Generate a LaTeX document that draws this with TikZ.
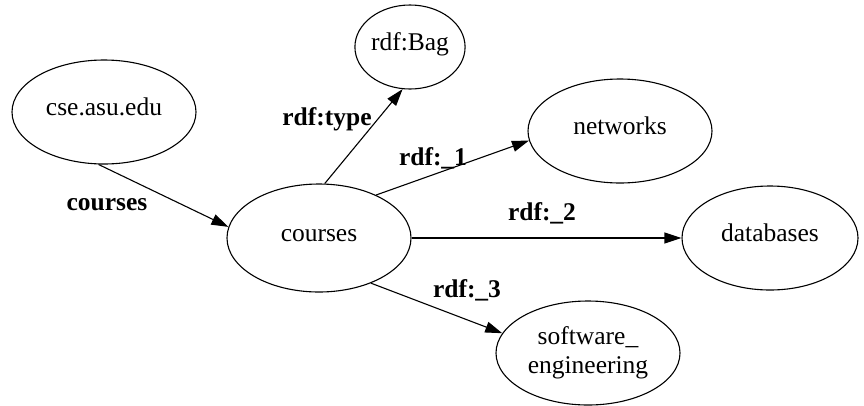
\documentclass[tikz,border=0pt]{standalone}
\usepackage{fontspec}
\setmainfont{Liberation Serif}
\usetikzlibrary{shapes.geometric,arrows.meta}
\begin{document}
\begin{tikzpicture}[x=1pt,y=-1pt,
  every node/.style={font=\fontsize{25.5pt}{29pt}\selectfont},
  nd/.style={ellipse,draw,line width=1.1pt,inner sep=0pt,minimum width=184pt,minimum height=104pt,text height=0.72em,text depth=0em},
  lbl/.style={font=\fontsize{25.5pt}{29pt}\selectfont\bfseries,inner sep=0pt,text height=0.68em,text depth=0.22em},
  edge/.style={line width=1.1pt,-{Triangle[length=17pt,width=11pt]}}]
\useasboundingbox (0,0) rectangle (864,405);
\node[nd] (cse) at (104,112) {cse.asu.edu};
\node[nd,minimum width=110pt,minimum height=84pt] (bag) at (410,47) {rdf:Bag};
\node[nd] (net) at (620,131) {networks};
\node[nd,minimum height=108pt] (crs) at (319,238) {courses};
\node[nd,minimum width=176pt] (db) at (770,238) {databases};
\node[nd,align=center,text height=,text depth=] (sw) at (588,353) {software\_\\engineering};
\draw[edge] (cse.264) -- (crs.173);
\draw[edge] (crs.84) -- (bag.260);
\draw[edge] (crs.37) -- (net.186);
\draw[edge] (crs.0) -- (db.180);
\draw[edge] (crs.319) -- (sw.167);
\node[lbl] (l0) at (107,208) {courses};
\node[lbl] (l1) at (327,123) {rdf:type};
\node[lbl] (l2) at (433,163) {rdf:\_1};
\node[lbl] (l3) at (542,218) {rdf:\_2};
\node[lbl] (l4) at (467,295) {rdf:\_3};
\end{tikzpicture}
\end{document}
